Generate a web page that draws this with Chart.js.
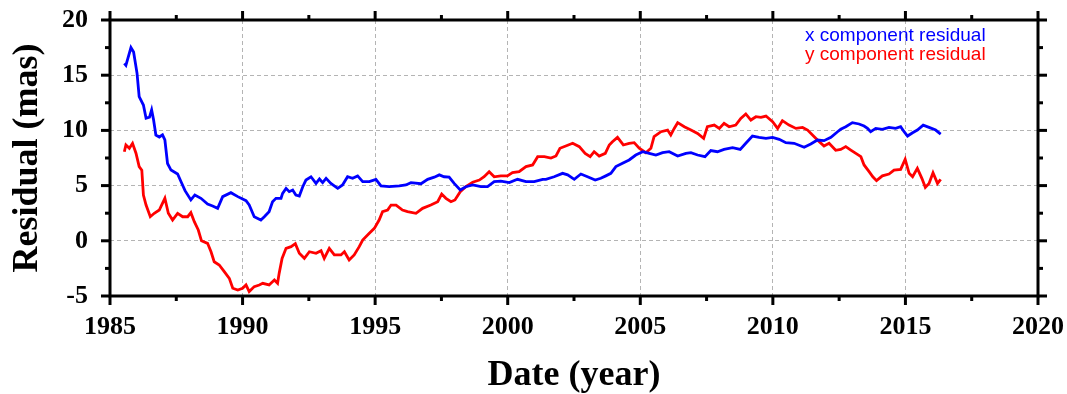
<!DOCTYPE html>
<html><head><meta charset="utf-8">
<script src="https://cdn.jsdelivr.net/npm/chart.js@4.4.1/dist/chart.umd.min.js"></script>
<style>html,body{margin:0;padding:0;background:#fff;}#wrap{width:1067px;height:394px;}</style>
</head><body><div id="wrap"><canvas id="c" width="1067" height="394"></canvas></div>
<script>
// ---- data ----
const xCompYears = [1985.54,1985.60,1985.79,1985.89,1986.02,1986.10,1986.26,1986.36,1986.49,1986.57,1986.64,1986.73,1986.86,1986.98,1987.07,1987.17,1987.30,1987.55,1987.68,1987.83,1988.05,1988.20,1988.43,1988.68,1988.87,1989.06,1989.25,1989.56,1989.82,1990.13,1990.25,1990.44,1990.69,1990.82,1991.00,1991.13,1991.26,1991.45,1991.51,1991.64,1991.76,1991.89,1992.01,1992.14,1992.27,1992.39,1992.58,1992.77,1992.90,1993.02,1993.15,1993.33,1993.59,1993.77,1993.96,1994.15,1994.34,1994.53,1994.78,1995.03,1995.22,1995.53,1995.91,1996.16,1996.35,1996.73,1996.98,1997.23,1997.42,1997.60,1997.79,1997.98,1998.21,1998.42,1998.68,1998.99,1999.24,1999.49,1999.74,2000.06,2000.37,2000.69,2001.00,2001.32,2001.44,2001.75,2002.07,2002.26,2002.51,2002.76,2003.01,2003.30,2003.51,2003.70,2003.89,2004.08,2004.33,2004.58,2004.83,2005.09,2005.34,2005.59,2005.84,2006.09,2006.41,2006.72,2006.91,2007.16,2007.44,2007.66,2007.91,2008.16,2008.48,2008.77,2008.98,2009.23,2009.48,2009.74,2009.99,2010.24,2010.49,2010.80,2011.18,2011.43,2011.68,2011.93,2012.19,2012.44,2012.56,2012.75,2013.00,2013.25,2013.44,2013.57,2013.69,2013.88,2014.13,2014.38,2014.63,2014.82,2014.95,2015.08,2015.27,2015.45,2015.67,2015.89,2016.14,2016.33];
const xCompValues = [16.08,15.9,17.5,17.1,15.17,13.05,12.3,11.1,11.2,11.85,11.0,9.58,9.4,9.6,9.13,7.0,6.41,6.05,5.35,4.54,3.7,4.15,3.85,3.33,3.15,2.94,4.0,4.36,4.0,3.63,3.24,2.18,1.88,2.18,2.64,3.54,3.85,3.85,4.3,4.75,4.45,4.6,4.15,4.06,4.9,5.5,5.8,5.2,5.6,5.27,5.66,5.2,4.75,5.06,5.8,5.66,5.88,5.36,5.36,5.57,4.97,4.9,4.97,5.06,5.27,5.17,5.57,5.76,5.97,5.8,5.76,5.2,4.6,4.9,5.06,4.9,4.9,5.36,5.4,5.27,5.57,5.36,5.36,5.57,5.57,5.8,6.11,5.97,5.57,6.05,5.8,5.5,5.66,5.88,6.11,6.72,7.02,7.32,7.77,8.07,7.92,7.77,7.98,8.07,7.68,7.92,7.98,7.77,7.62,8.17,8.07,8.28,8.43,8.28,8.83,9.49,9.37,9.28,9.37,9.19,8.89,8.83,8.47,8.77,9.13,9.07,9.37,9.88,10.1,10.33,10.7,10.58,10.4,10.18,9.88,10.18,10.1,10.27,10.18,10.33,9.88,9.49,9.79,10.03,10.48,10.27,10.03,9.67];
const yCompYears = [1985.54,1985.60,1985.73,1985.85,1985.98,1986.10,1986.20,1986.26,1986.36,1986.52,1986.67,1986.86,1986.92,1987.07,1987.20,1987.36,1987.55,1987.74,1987.93,1988.05,1988.18,1988.33,1988.45,1988.68,1988.81,1988.93,1989.12,1989.31,1989.50,1989.63,1989.82,1990.00,1990.13,1990.25,1990.44,1990.63,1990.76,1991.00,1991.20,1991.32,1991.38,1991.49,1991.64,1991.83,1991.99,1992.14,1992.33,1992.52,1992.77,1992.96,1993.08,1993.27,1993.46,1993.71,1993.84,1994.02,1994.21,1994.40,1994.53,1994.78,1994.97,1995.15,1995.28,1995.47,1995.60,1995.79,1996.03,1996.22,1996.54,1996.79,1997.10,1997.36,1997.51,1997.67,1997.86,1998.01,1998.21,1998.42,1998.68,1998.93,1999.11,1999.30,1999.49,1999.74,1999.99,2000.18,2000.43,2000.69,2000.94,2001.13,2001.38,2001.63,2001.82,2001.97,2002.19,2002.45,2002.70,2002.92,2003.11,2003.26,2003.45,2003.68,2003.83,2003.95,2004.14,2004.36,2004.58,2004.77,2004.96,2005.21,2005.40,2005.52,2005.78,2006.03,2006.15,2006.28,2006.41,2006.66,2006.91,2007.16,2007.39,2007.53,2007.79,2007.98,2008.16,2008.35,2008.60,2008.79,2008.98,2009.17,2009.36,2009.55,2009.74,2009.99,2010.18,2010.36,2010.61,2010.87,2011.12,2011.31,2011.56,2011.75,2011.93,2012.12,2012.37,2012.56,2012.75,2012.94,2013.13,2013.32,2013.44,2013.63,2013.77,2013.91,2014.13,2014.38,2014.57,2014.82,2014.99,2015.14,2015.27,2015.45,2015.62,2015.75,2015.89,2016.04,2016.21,2016.33];
const yCompValues = [8.07,8.68,8.38,8.83,7.93,6.72,6.4,4.15,3.24,2.18,2.49,2.79,3.09,3.85,2.49,1.88,2.49,2.18,2.18,2.55,1.73,0.98,0.0,-0.23,-0.99,-1.9,-2.19,-2.8,-3.4,-4.3,-4.46,-4.3,-4.0,-4.6,-4.15,-4.0,-3.85,-4.0,-3.55,-3.85,-2.95,-1.6,-0.68,-0.53,-0.26,-1.13,-1.59,-0.99,-1.13,-0.9,-1.59,-0.68,-1.28,-1.28,-0.99,-1.74,-1.28,-0.53,0.07,0.68,1.13,1.88,2.64,2.79,3.24,3.24,2.79,2.64,2.49,2.94,3.24,3.54,4.24,3.85,3.54,3.7,4.45,4.9,5.3,5.5,5.8,6.26,5.8,5.88,5.88,6.17,6.26,6.72,6.87,7.62,7.62,7.5,7.68,8.38,8.59,8.83,8.53,7.92,7.62,8.07,7.68,7.92,8.68,8.98,9.37,8.68,8.83,8.89,8.38,7.98,8.38,9.43,9.88,10.03,9.58,10.18,10.7,10.33,10.03,9.73,9.28,10.33,10.48,10.18,10.64,10.33,10.48,11.09,11.49,10.94,11.24,11.18,11.3,10.79,10.18,10.88,10.48,10.18,10.27,10.03,9.43,8.98,8.59,8.83,8.2,8.28,8.53,8.22,7.92,7.62,6.87,6.26,5.8,5.45,5.88,6.05,6.41,6.47,7.38,6.11,5.8,6.56,5.66,4.84,5.2,6.17,5.2,5.57];
const xTickValues = [1985,1990,1995,2000,2005,2010,2015,2020];
const yTickValues = [-5,0,5,10,15,20];
const seriesLabels = ['x component residual','y component residual'];
const seriesColors = ['#0000ff','#ff0000'];
const xAxisTitle = 'Date (year)';
const yAxisTitle = 'Residual (mas)';

const toPoints = (xs, ys) => xs.map((v, i) => ({x: v, y: ys[i]}));
const serif = '"Liberation Serif", "Times New Roman", serif';

const framePlugin = {
  id: 'frame',
  afterDatasetsDraw(chart) {
    const {ctx, chartArea: a, scales: {x, y}} = chart;
    ctx.save();
    ctx.strokeStyle = '#000';
    ctx.lineCap = 'butt';
    ctx.lineWidth = 3;
    ctx.strokeRect(a.left, a.top, a.right - a.left, a.bottom - a.top);
    const major = 9, minor = 5;
    const seg = (x1, y1, x2, y2) => { ctx.beginPath(); ctx.moveTo(x1, y1); ctx.lineTo(x2, y2); ctx.stroke(); };
    xTickValues.forEach((v, i) => {
      const p = x.getPixelForValue(v);
      seg(p, a.bottom, p, a.bottom + major);
      seg(p, a.top, p, a.top - major);
      if (i < xTickValues.length - 1) {
        const q = x.getPixelForValue((v + xTickValues[i + 1]) / 2);
        seg(q, a.bottom, q, a.bottom + minor);
        seg(q, a.top, q, a.top - minor);
      }
    });
    yTickValues.forEach((v, i) => {
      const p = y.getPixelForValue(v);
      seg(a.left, p, a.left - major, p);
      seg(a.right, p, a.right + major, p);
      if (i < yTickValues.length - 1) {
        const q = y.getPixelForValue((v + yTickValues[i + 1]) / 2);
        seg(a.left, q, a.left - minor, q);
        seg(a.right, q, a.right + minor, q);
      }
    });
    ctx.restore();
  },
  afterDraw(chart) {
    const {ctx} = chart;
    ctx.save();
    ctx.font = '19px "Liberation Sans", Arial, sans-serif';
    ctx.textAlign = 'left';
    ctx.textBaseline = 'alphabetic';
    ctx.fillStyle = seriesColors[0];
    ctx.fillText(seriesLabels[0], 805, 41);
    ctx.fillStyle = seriesColors[1];
    ctx.fillText(seriesLabels[1], 805, 60);
    ctx.restore();
  }
};

new Chart(document.getElementById('c'), {
  type: 'line',
  data: {
    datasets: [
      {label: seriesLabels[0], data: toPoints(xCompYears, xCompValues), borderColor: seriesColors[0], borderWidth: 2.8, pointRadius: 0, tension: 0, fill: false},
      {label: seriesLabels[1], data: toPoints(yCompYears, yCompValues), borderColor: seriesColors[1], borderWidth: 2.8, pointRadius: 0, tension: 0, fill: false}
    ]
  },
  options: {
    responsive: false,
    devicePixelRatio: 1,
    animation: false,
    layout: {padding: {left: 0, top: 20, right: 29, bottom: 0}},
    plugins: {legend: {display: false}, tooltip: {enabled: false}},
    scales: {
      x: {
        type: 'linear', min: 1985, max: 2020,
        afterBuildTicks: s => { s.ticks = xTickValues.map(v => ({value: v})); },
        afterFit: s => { s.height = 98; s.paddingLeft = 0; s.paddingRight = 0; },
        ticks: {color: '#000', font: {family: serif, size: 26, weight: 'bold'}, padding: 16, maxRotation: 0, callback: v => String(v)},
        grid: {color: '#b4b4b4', lineWidth: 1, drawTicks: false},
        border: {display: false, dash: [4, 3]},
        title: {display: true, text: xAxisTitle, color: '#000', font: {family: serif, size: 36, weight: 'bold', lineHeight: 1.0}, padding: {top: 0, bottom: 0}}
      },
      y: {
        type: 'linear', min: -5, max: 20,
        afterBuildTicks: s => { s.ticks = yTickValues.map(v => ({value: v})); },
        afterFit: s => { s.width = 110; s.paddingTop = 0; s.paddingBottom = 0; },
        ticks: {color: '#000', font: {family: serif, size: 26, weight: 'bold'}, padding: 22},
        grid: {color: '#b4b4b4', lineWidth: 1, drawTicks: false},
        border: {display: false, dash: [4, 3]},
        title: {display: true, text: yAxisTitle, color: '#000', font: {family: serif, size: 36, weight: 'bold'}, padding: {top: 6, bottom: 0}}
      }
    }
  },
  plugins: [framePlugin]
});
</script></body></html>
